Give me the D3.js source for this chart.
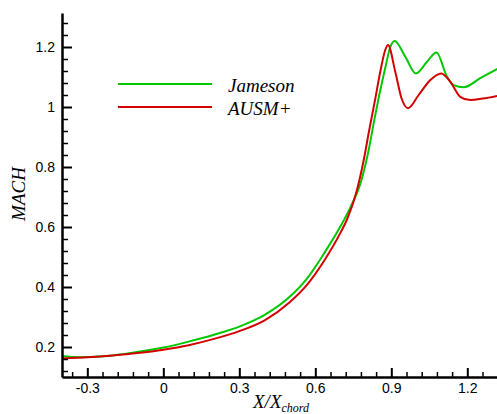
<!DOCTYPE html>
<html>
<head>
<meta charset="utf-8">
<script src="https://cdn.jsdelivr.net/npm/d3@7"></script>
<style>
  html, body { margin: 0; padding: 0; background: #fff; }
  svg { display: block; }
</style>
</head>
<body>
<script>
// ---- data ----
const xTickValues = [-0.3, 0, 0.3, 0.6, 0.9, 1.2];
const xTickLabels = ["-0.3", "0", "0.3", "0.6", "0.9", "1.2"];
const yTickValues = [0.2, 0.4, 0.6, 0.8, 1.0, 1.2];
const yTickLabels = ["0.2", "0.4", "0.6", "0.8", "1", "1.2"];

const seriesNames = ["Jameson", "AUSM+"];

const jamesonX = [-0.4, -0.33, -0.25, -0.18, -0.1, 0, 0.1, 0.2, 0.3, 0.4, 0.5, 0.567, 0.633, 0.7, 0.74, 0.774, 0.808, 0.833, 0.855, 0.876, 0.896, 0.913, 0.955, 0.997, 1.041, 1.078, 1.12, 1.146, 1.186, 1.251, 1.318];
const jamesonY = [0.170, 0.166, 0.168, 0.174, 0.184, 0.198, 0.218, 0.241, 0.268, 0.307, 0.368, 0.428, 0.510, 0.603, 0.668, 0.734, 0.846, 0.957, 1.050, 1.130, 1.200, 1.220, 1.168, 1.112, 1.151, 1.182, 1.101, 1.073, 1.066, 1.096, 1.127];

const ausmX = [-0.4, -0.3, -0.2, -0.1, 0, 0.1, 0.2, 0.3, 0.4, 0.5, 0.567, 0.633, 0.7, 0.725, 0.764, 0.795, 0.811, 0.835, 0.857, 0.876, 0.887, 0.915, 0.94, 0.966, 1.008, 1.054, 1.097, 1.133, 1.172, 1.212, 1.26, 1.318];
const ausmY = [0.162, 0.166, 0.172, 0.180, 0.191, 0.206, 0.227, 0.253, 0.289, 0.350, 0.407, 0.485, 0.582, 0.625, 0.722, 0.840, 0.915, 1.020, 1.120, 1.190, 1.207, 1.120, 1.030, 0.996, 1.040, 1.090, 1.112, 1.084, 1.034, 1.023, 1.028, 1.037];

const colors = ["#00c800", "#d40000"];

// ---- layout ----
const W = 497, H = 414;
const svg = d3.select("body").append("svg").attr("width", W).attr("height", H);

const x = d3.scaleLinear().domain([-0.4, 1.32]).range([62, 497.7]);
const y = d3.scaleLinear().domain([0.1, 1.2]).range([377, 47]);
const yTop = 1.313;

svg.append("clipPath").attr("id", "clip")
  .append("rect").attr("x", 62).attr("y", y(yTop)).attr("width", W - 62).attr("height", 377 - y(yTop));

// lines
const line = d3.line().x(d => x(d[0])).y(d => y(d[1])).curve(d3.curveMonotoneX);
const series = [d3.zip(jamesonX, jamesonY), d3.zip(ausmX, ausmY)];
const g = svg.append("g").attr("clip-path", "url(#clip)");
[0, 1].forEach(i => {
  g.append("path").datum(series[i])
    .attr("fill", "none").attr("stroke", colors[i]).attr("stroke-width", 2)
    .attr("stroke-linejoin", "round")
    .attr("d", line);
});

// minor ticks
const xMinor = d3.range(-0.36, 1.33, 0.06).filter(v => !xTickValues.some(t => Math.abs(t - v) < 1e-6));
const yMinor = d3.range(0.12, 1.3, 0.04).filter(v => !yTickValues.some(t => Math.abs(t - v) < 1e-6));

const yScaleAxis = y.copy().domain([0.1, yTop]).range([377, y(yTop)]);

svg.append("g").attr("transform", "translate(62,0)")
  .call(d3.axisLeft(yScaleAxis).tickValues(yMinor).tickSize(-6).tickSizeOuter(0).tickFormat(""))
  .call(s => s.select(".domain").remove())
  .call(s => s.selectAll("line").attr("stroke", "#000").attr("stroke-width", 1.5));

svg.append("g").attr("transform", "translate(0,377)")
  .call(d3.axisBottom(x).tickValues(xMinor).tickSize(-5).tickSizeOuter(0).tickFormat(""))
  .call(s => s.select(".domain").remove())
  .call(s => s.selectAll("line").attr("stroke", "#000").attr("stroke-width", 1.5));

// major axes
const yAxisG = svg.append("g").attr("transform", "translate(62,0)")
  .call(d3.axisLeft(yScaleAxis).tickValues(yTickValues).tickSize(-10).tickSizeOuter(0).tickPadding(7)
    .tickFormat((d, i) => yTickLabels[i]));
yAxisG.select(".domain").attr("stroke", "#000").attr("stroke-width", 2.5);
yAxisG.selectAll("line").attr("stroke", "#000").attr("stroke-width", 2);
yAxisG.selectAll("text").attr("font-family", "Liberation Sans, Arial, sans-serif").attr("font-size", 14).attr("fill", "#000");

const xAxisG = svg.append("g").attr("transform", "translate(0,377)")
  .call(d3.axisBottom(x).tickValues(xTickValues).tickSize(-9).tickSizeOuter(0).tickPadding(7)
    .tickFormat((d, i) => xTickLabels[i]));
xAxisG.select(".domain").attr("stroke", "#000").attr("stroke-width", 2.5);
xAxisG.selectAll("line").attr("stroke", "#000").attr("stroke-width", 2);
xAxisG.selectAll("text").attr("font-family", "Liberation Sans, Arial, sans-serif").attr("font-size", 14).attr("fill", "#000")
  .attr("dy", null).attr("y", 16);

// axis titles
const serif = "Liberation Serif, Times New Roman, serif";
svg.append("text").attr("transform", "translate(25,194) rotate(-90)")
  .attr("text-anchor", "middle").attr("font-family", serif).attr("font-style", "italic")
  .attr("font-size", 19).text("MACH");

const xt = svg.append("text").attr("x", 253).attr("y", 408)
  .attr("font-family", serif).attr("font-style", "italic").attr("font-size", 19);
xt.append("tspan").text("X/X");
xt.append("tspan").attr("dy", 4).attr("font-size", 12).text("chord");

// legend
const legY = [84, 107];
seriesNames.forEach((name, i) => {
  svg.append("line").attr("x1", 118).attr("x2", 212).attr("y1", legY[i]).attr("y2", legY[i])
    .attr("stroke", colors[i]).attr("stroke-width", 2);
  svg.append("text").attr("x", 228).attr("y", legY[i] + 7.5)
    .attr("font-family", serif).attr("font-style", "italic").attr("font-size", 19).text(name);
});
</script>
</body>
</html>
